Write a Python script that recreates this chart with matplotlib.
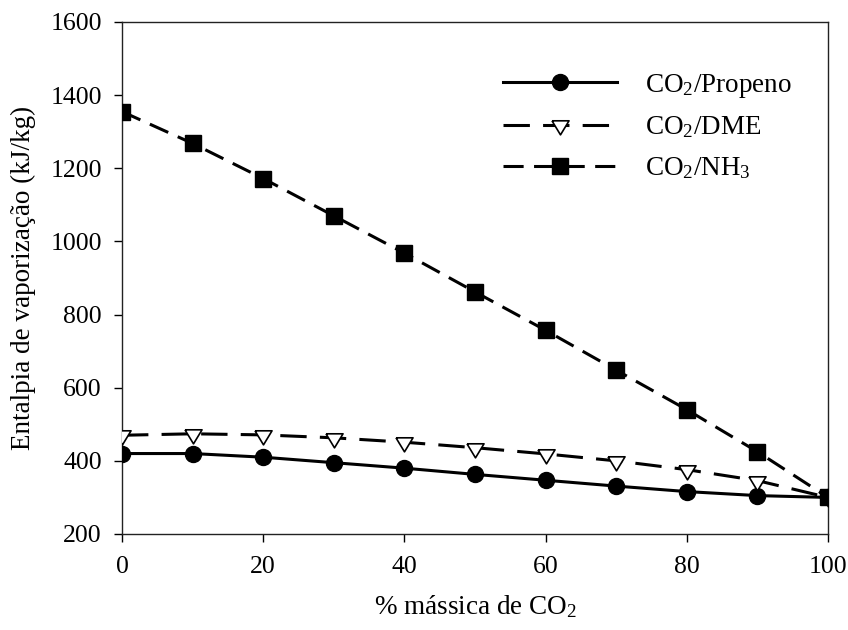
import matplotlib
matplotlib.use("Agg")
import matplotlib.pyplot as plt
from matplotlib.lines import Line2D

plt.rcParams['font.family'] = ['Liberation Serif', 'DejaVu Serif']
plt.rcParams['mathtext.fontset'] = 'custom'
plt.rcParams['mathtext.rm'] = 'Liberation Serif'
plt.rcParams['mathtext.it'] = 'Liberation Serif:italic'
plt.rcParams['lines.scale_dashes'] = False

# % mass of CO2 in the mixture
co2_pct = [0, 10, 20, 30, 40, 50, 60, 70, 80, 90, 100]

# Enthalpy of vaporization (kJ/kg)
propeno = [420, 420, 410, 395, 380, 363, 347, 331, 316, 305, 300]
dme = [470, 474, 471, 463, 451, 436, 419, 400, 376, 346, 300]
nh3 = [1355, 1268, 1172, 1070, 968, 862, 757, 648, 540, 425, 300]

labels = ["CO$_\\mathregular{2}$/Propeno", "CO$_\\mathregular{2}$/DME",
          "CO$_\\mathregular{2}$/NH$_\\mathregular{3}$"]

x_ticks = [0, 20, 40, 60, 80, 100]
y_ticks = [200, 400, 600, 800, 1000, 1200, 1400, 1600]

# downward triangle with its centroid on the data point
tri_down = [(-1, 0.55), (1, 0.55), (0, -1.1), (-1, 0.55)]

fig = plt.figure(figsize=(8.48, 6.30), dpi=100)
ax = fig.add_axes([122 / 848, 1 - 534 / 630, 706 / 848, 512 / 630])

lw = 2.2
dme_ls = (0, (19, 9.5))
nh3_ls = (0, (14.5, 7.5))
ax.plot(co2_pct, propeno, color='black', lw=lw, ls='-',
        marker='o', ms=11.5, mfc='black', mec='black', zorder=3)
ax.plot(co2_pct, dme, color='black', lw=lw, ls=dme_ls,
        marker=tri_down, ms=13.5, mfc='white', mec='black', mew=1.2, zorder=4)
ax.plot(co2_pct, nh3, color='black', lw=lw, ls=nh3_ls,
        marker='s', ms=11, mfc='black', mec='black', zorder=5)

ax.set_xlim(0, 100)
ax.set_ylim(200, 1600)
ax.set_xticks(x_ticks)
ax.set_yticks(y_ticks)
ax.tick_params(direction='out', length=5.5, width=1, labelsize=18.5,
               colors='black')
ax.tick_params(axis='y', pad=9)
ax.tick_params(axis='x', pad=10)
for s in ax.spines.values():
    s.set_linewidth(1.0)
    s.set_color('#222222')

ax.set_xlabel("% mássica de CO$_\\mathregular{2}$", fontsize=19.5, labelpad=11)
ax.set_ylabel("Entalpia de vaporização (kJ/kg)", fontsize=19.5, labelpad=10)

handles = [
    Line2D([], [], color='black', lw=lw, ls='-', marker='o', ms=11.5,
           mfc='black', mec='black'),
    Line2D([], [], color='black', lw=lw, ls=dme_ls, marker=tri_down,
           ms=13.5, mfc='white', mec='black', mew=1.2),
    Line2D([], [], color='black', lw=lw, ls=nh3_ls, marker='s', ms=11,
           mfc='black', mec='black'),
]
ax.legend(handles, labels, loc='upper left', bbox_to_anchor=(0.54, 0.903),
          frameon=False, fontsize=19.5, handlelength=4.2, handletextpad=1.05,
          labelspacing=0.55, borderaxespad=0, borderpad=0, markerscale=1.0)

fig.savefig("out.png", dpi=100)
